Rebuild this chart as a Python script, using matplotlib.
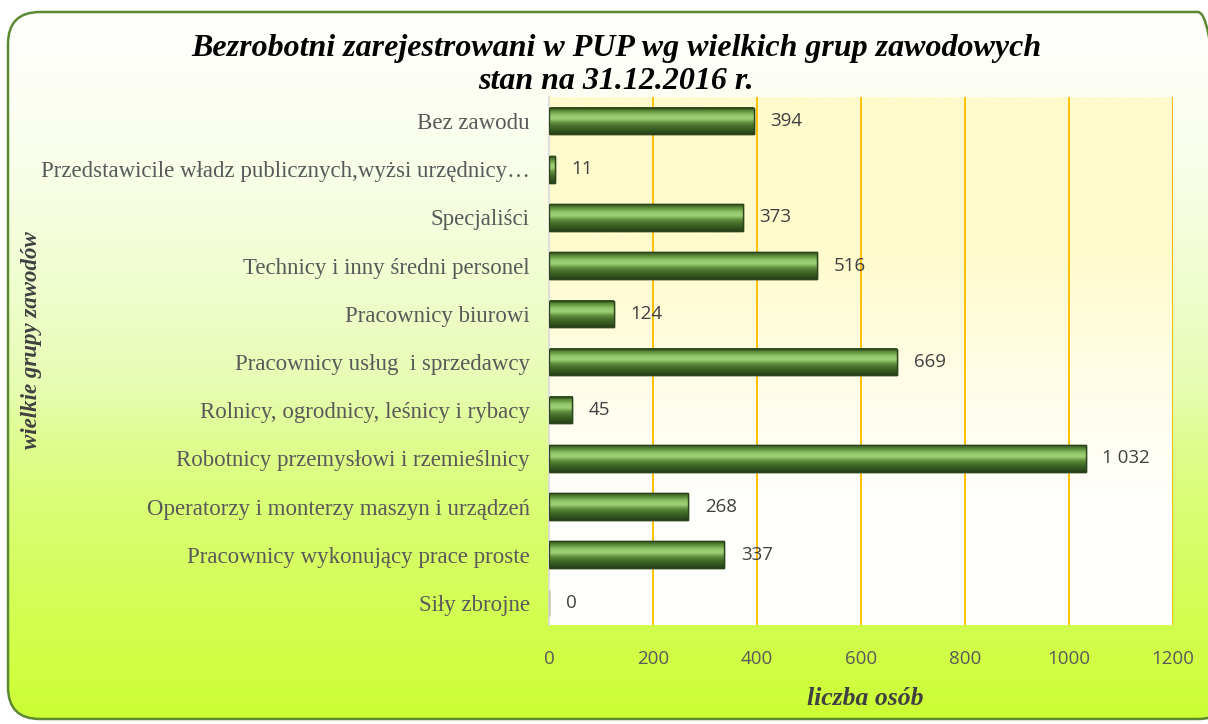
import numpy as np
import matplotlib
matplotlib.use('Agg')
import matplotlib.pyplot as plt
from matplotlib.patches import FancyBboxPatch
from matplotlib.colors import LinearSegmentedColormap

categories = [
    'Bez zawodu',
    'Przedstawicile władz publicznych,wyżsi urzędnicy…',
    'Specjaliści',
    'Technicy i inny średni personel',
    'Pracownicy biurowi',
    'Pracownicy usług  i sprzedawcy',
    'Rolnicy, ogrodnicy, leśnicy i rybacy',
    'Robotnicy przemysłowi i rzemieślnicy',
    'Operatorzy i monterzy maszyn i urządzeń',
    'Pracownicy wykonujący prace proste',
    'Siły zbrojne',
]
counts = [394, 11, 373, 516, 124, 669, 45, 1032, 268, 337, 0]
x_ticks = [0, 200, 400, 600, 800, 1000, 1200]

W, H = 1208, 724
fig = plt.figure(figsize=(W / 100, H / 100), dpi=100)
fig.patch.set_facecolor('white')

# background with rounded frame and vertical gradient (pixel coords)
bg = fig.add_axes([0, 0, 1, 1])
bg.set_xlim(0, W)
bg.set_ylim(0, H)
bg.axis('off')
t = np.linspace(0, 1, 256)
top = np.array([255, 255, 253]) / 255
mid = np.array([230, 252, 175]) / 255
bot = np.array([204, 255, 51]) / 255
grad = np.zeros((256, 1, 3))
for i, v in enumerate(t):
    if v < 0.55:
        grad[i, 0] = top + (mid - top) * (v / 0.55) ** 1.5
    else:
        grad[i, 0] = mid + (bot - mid) * ((v - 0.55) / 0.45) ** 0.7
frame = FancyBboxPatch((8, 5), 1222, 707,
                       boxstyle='round,pad=0,rounding_size=32',
                       facecolor='none', edgecolor='#5b8a32', linewidth=1.8,
                       zorder=3)
bg.add_patch(frame)
img = bg.imshow(grad, extent=[0, W, 0, H], aspect='auto', origin='upper', zorder=1)
img.set_clip_path(frame)
bg.set_xlim(0, W)
bg.set_ylim(0, H)

ax = fig.add_axes([0.4545, 0.1367, 0.5165, 0.7293])
ypos = np.arange(len(categories))
ylo, yhi = len(categories) - 0.54, -0.5

# plot area gradient: pale yellow at top to white at bottom
pa = np.linspace(0, 1, 256)
pa_top = np.array([255, 251, 205]) / 255
pa_bot = np.array([255, 255, 252]) / 255
f = np.clip((pa - 0.3) / 0.45, 0, 1) ** 0.9
pa_grad = pa_top + (pa_bot - pa_top) * f[:, None]
ax.imshow(pa_grad.reshape(256, 1, 3), extent=[0, 1200, ylo, yhi],
          aspect='auto', zorder=0)

for x in x_ticks[1:]:
    ax.axvline(x, color='#ffc000', linewidth=1.4, zorder=1)

bar_h = 0.55
bars = ax.barh(ypos, counts, height=bar_h, color='#3f6324',
               edgecolor='#2c451a', linewidth=1.0, zorder=2)

# bevel shading on each bar
shade = LinearSegmentedColormap.from_list(
    'bevel', ['#33521e', '#5f8f3c', '#8fc466', '#a2d27a', '#62923e',
              '#466d2b', '#365a21', '#263e18'])
sh = np.linspace(0, 1, 64).reshape(-1, 1)
for b in bars:
    if b.get_width() <= 0:
        continue
    x0, y0 = b.get_x(), b.get_y()
    w, h = b.get_width(), b.get_height()
    ax.imshow(sh, cmap=shade, extent=[x0, x0 + w, y0 + h, y0], aspect='auto',
              zorder=2.5, interpolation='bicubic')
    ax.add_patch(plt.Rectangle((x0, y0), w, h, facecolor='none',
                               edgecolor='#2c451a', linewidth=1.0, zorder=3))
ax.set_xlim(0, 1200)
ax.set_ylim(ylo, yhi)

for y, v in zip(ypos, counts):
    lbl = f'{v:,}'.replace(',', ' ')
    ax.text(v + 32, y, lbl, va='center', ha='left', fontsize=13.5,
            color='#404040', family='Open Sans', zorder=4)

ax.set_yticks(ypos)
ax.set_yticklabels(categories, family='Liberation Serif', fontsize=16.5, color='#595959')
ax.set_xticks(x_ticks)
ax.set_xticklabels([str(x) for x in x_ticks], family='Open Sans', fontsize=13.5,
                   color='#595959')
ax.tick_params(axis='both', length=0)
ax.tick_params(axis='x', pad=18)
ax.tick_params(axis='y', pad=14)
for s in ['top', 'right', 'bottom']:
    ax.spines[s].set_visible(False)
ax.spines['left'].set_color('#d9d9d9')
ax.spines['left'].set_linewidth(1.2)

fig.text(0.51, 0.933, 'Bezrobotni zarejestrowani w PUP wg wielkich grup zawodowych',
         ha='center', va='center', family='Liberation Serif', fontsize=23,
         fontweight='bold', style='italic', color='black')
fig.text(0.51, 0.888, 'stan na 31.12.2016 r.',
         ha='center', va='center', family='Liberation Serif', fontsize=23,
         fontweight='bold', style='italic', color='black')
fig.text(0.716, 0.035, 'liczba osób', ha='center', va='center',
         family='Liberation Serif', fontsize=18.5, fontweight='bold',
         style='italic', color='#404040')
fig.text(0.026, 0.53, 'wielkie grupy zawodów', ha='center', va='center', rotation=90,
         family='Liberation Serif', fontsize=16.5, fontweight='bold',
         style='italic', color='#404040')

fig.savefig('out.png', dpi=100, facecolor='white')
